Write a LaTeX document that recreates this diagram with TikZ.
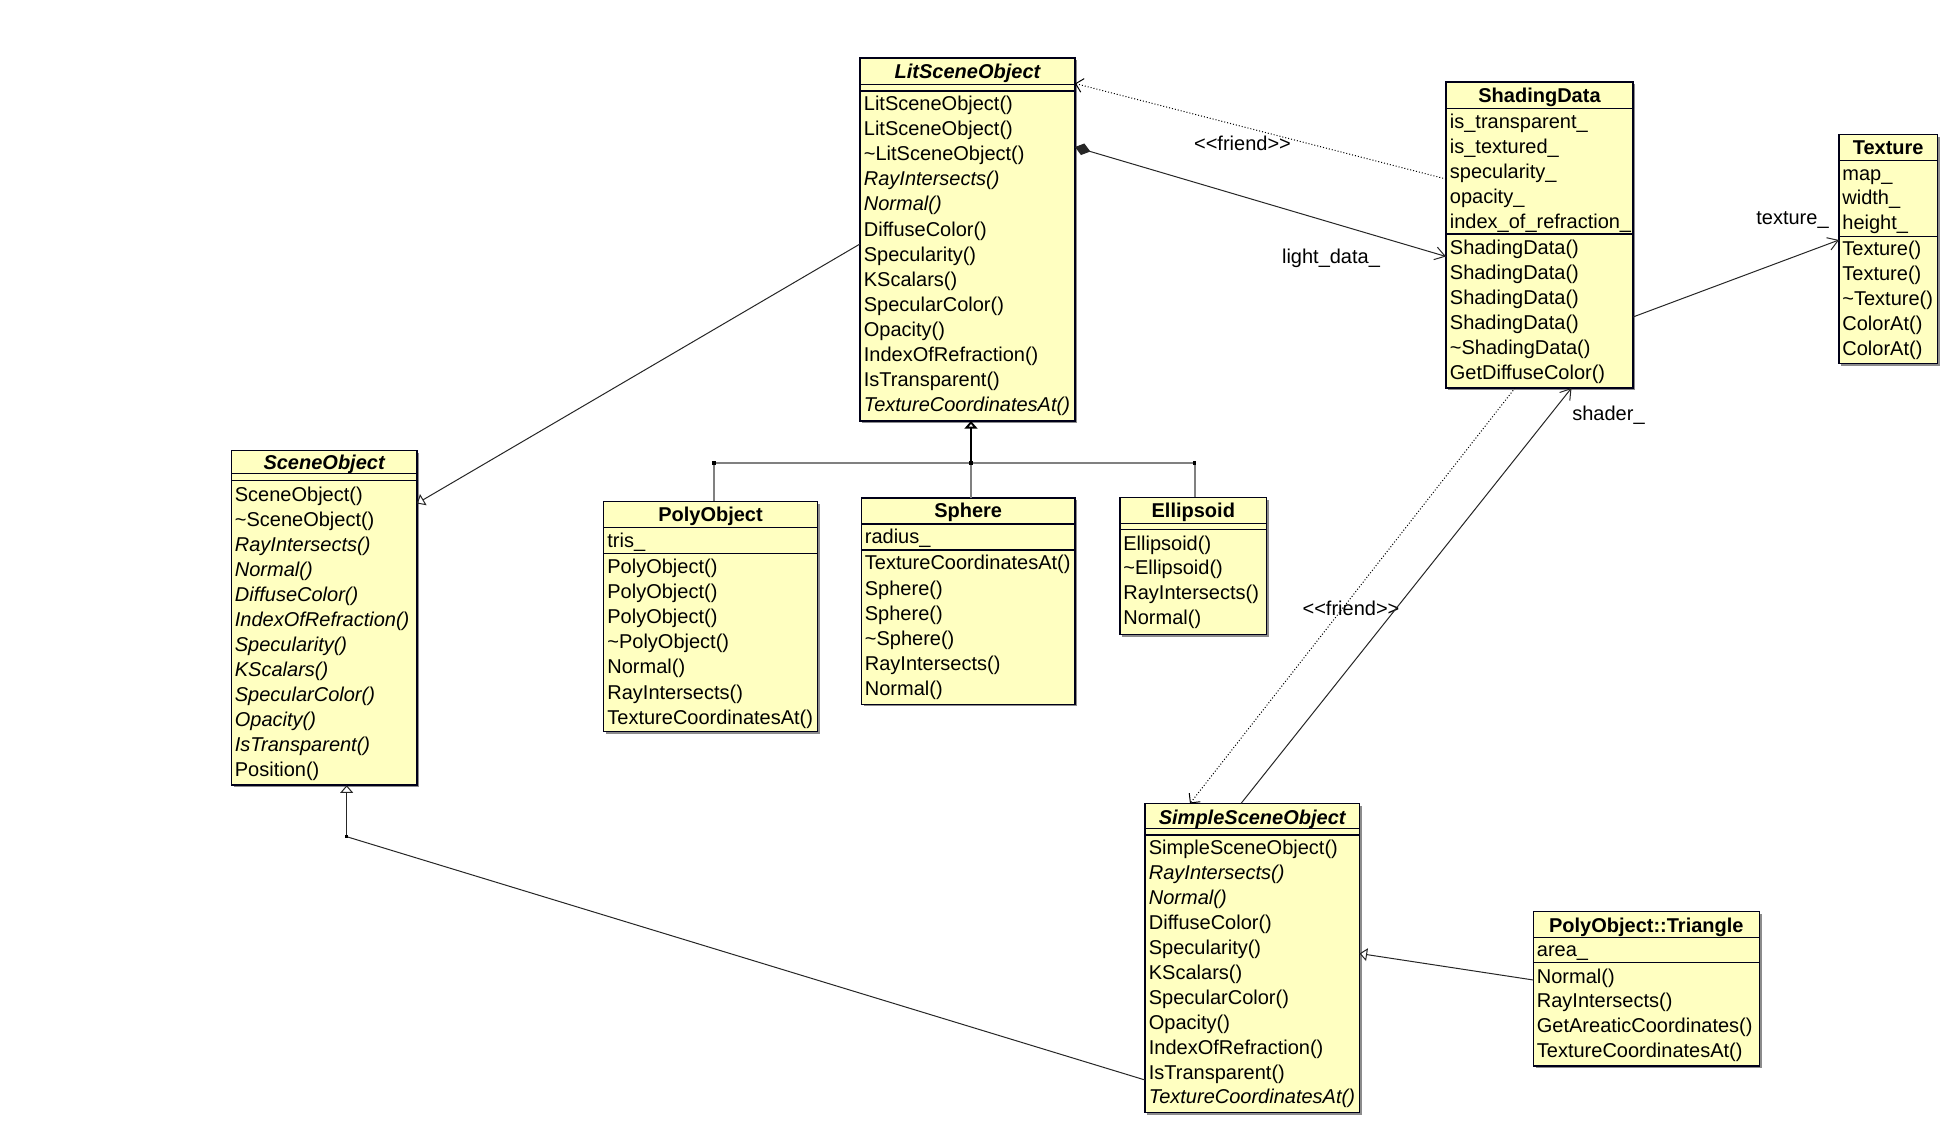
\documentclass[tikz,border=0pt]{standalone}
\usepackage{fontspec}
\setmainfont{Liberation Sans}
\usetikzlibrary{arrows.meta,shadows}
\definecolor{boxfill}{HTML}{FFFFC1}
\definecolor{boxline}{HTML}{000018}
\tikzset{
  cls/.style={draw=boxline, line width=0.7pt, fill=boxfill, inner sep=0pt, outer sep=0pt,
    anchor=north west, drop shadow={shadow xshift=1.1pt, shadow yshift=-1.1pt, fill=black!45, opacity=1}},
  sepl/.style={draw=boxline, line width=0.7pt},
  row/.style={inner sep=0pt, anchor=base west, yshift=-0.8pt, font=\fontsize{10pt}{12pt}\selectfont},
  ttl/.style={inner sep=0pt, anchor=base, yshift=-0.9pt, font=\fontsize{10pt}{12pt}\selectfont\bfseries},
  lbl/.style={inner sep=0pt, font=\fontsize{10pt}{12pt}\selectfont},
  assoc/.style={draw=black!85, line width=0.5pt},
  openhead/.style={-{Straight Barb[length=5pt,width=6.5pt]}},
  widehead/.style={-{Straight Barb[length=3.5pt,width=7pt]}},
  genhead/.style={-{Triangle[open,length=3.8pt,width=6.4pt]}},
  dep/.style={draw=black, line width=0.5pt, dash pattern=on 0.5pt off 1pt},
  hbar/.style={draw=black!50, line width=1pt},
  jdot/.style={fill=black, inner sep=0pt, minimum size=1.6pt, rectangle, draw=none},
}
\newcommand\cbox[5]{\node[cls, minimum width=#4*0.5pt, minimum height=#5*0.5pt] (#1) at (#2,#3) {};}
\newcommand\hsep[2]{\draw[sepl] (#1.west |- 0,#2) -- (#1.east |- 0,#2);}
\newcommand\rowlist[5]{%
  \foreach \rowtxt [count=\ri from 0] in {#5}{%
    \node[row] (#1-\ri) at (#2, #3+\ri*#4) {\rowtxt};}}
\begin{document}
\begin{tikzpicture}[x=0.5pt, y=-0.5pt]
\fill[white] (0,0) rectangle (1951,1127);
\useasboundingbox (0,0) rectangle (1951,1127);

% ---------- LitSceneObject
\cbox{lit}{860}{58}{215}{363}
\node[ttl] (lit-t) at (967.5,77) {\itshape LitSceneObject};
\hsep{lit}{84.5}\hsep{lit}{91}
\rowlist{lit-m}{863.5}{109}{25.1}{LitSceneObject(), LitSceneObject(), \textasciitilde LitSceneObject(),
  \textit{RayIntersects()}, \textit{Normal()}, DiffuseColor(), Specularity(), KScalars(),
  SpecularColor(), Opacity(), IndexOfRefraction(), IsTransparent(), \textit{TextureCoordinatesAt()}}

% ---------- ShadingData
\cbox{shd}{1446}{82}{187}{306}
\node[ttl] (shd-t) at (1539.5,101) {ShadingData};
\hsep{shd}{108.3}\hsep{shd}{234}
\rowlist{shd-a}{1449.5}{127}{24.9}{is\_transparent\_, is\_textured\_, specularity\_, opacity\_, index\_of\_refraction\_}
\rowlist{shd-m}{1449.5}{252.9}{25.1}{ShadingData(), ShadingData(), ShadingData(), ShadingData(), \textasciitilde ShadingData(), GetDiffuseColor()}

% ---------- Texture
\cbox{tex}{1839}{134.4}{98.4}{229}
\node[ttl] (tex-t) at (1888.2,152.3) {Texture};
\hsep{tex}{160.4}\hsep{tex}{236.4}
\rowlist{tex-a}{1842}{178.5}{24.85}{map\_, width\_, height\_}
\rowlist{tex-m}{1842}{254.4}{24.9}{Texture(), Texture(), \textasciitilde Texture(), ColorAt(), ColorAt()}

% ---------- SceneObject
\cbox{scn}{231.4}{450.4}{185.4}{334.8}
\node[ttl] (scn-t) at (324.1,467.6) {\itshape SceneObject};
\hsep{scn}{473.5}\hsep{scn}{480.5}
\rowlist{scn-m}{234.5}{500}{25}{SceneObject(), \textasciitilde SceneObject(), \textit{RayIntersects()}, \textit{Normal()},
  \textit{DiffuseColor()}, \textit{IndexOfRefraction()}, \textit{Specularity()}, \textit{KScalars()},
  \textit{SpecularColor()}, \textit{Opacity()}, \textit{IsTransparent()}, Position()}

% ---------- PolyObject
\cbox{poly}{603.5}{501.5}{214}{230.2}
\node[ttl] (poly-t) at (710.5,519.9) {PolyObject};
\hsep{poly}{527.3}\hsep{poly}{553.3}
\rowlist{poly-a}{607}{546}{25}{tris\_}
\rowlist{poly-m}{607}{572}{25.1}{PolyObject(), PolyObject(), PolyObject(), \textasciitilde PolyObject(), Normal(), RayIntersects(), TextureCoordinatesAt()}

% ---------- Sphere
\cbox{sph}{861.5}{498}{213.5}{206.3}
\node[ttl] (sph-t) at (968.2,516) {Sphere};
\hsep{sph}{524}\hsep{sph}{550}
\rowlist{sph-a}{864.5}{542.3}{25}{radius\_}
\rowlist{sph-m}{864.5}{568.4}{25.1}{TextureCoordinatesAt(), Sphere(), Sphere(), \textasciitilde Sphere(), RayIntersects(), Normal()}

% ---------- Ellipsoid
\cbox{ell}{1120}{497.5}{146.7}{137}
\node[ttl] (ell-t) at (1193.3,516) {Ellipsoid};
\hsep{ell}{523.3}\hsep{ell}{529.3}
\rowlist{ell-m}{1123}{548.5}{24.9}{Ellipsoid(), \textasciitilde Ellipsoid(), RayIntersects(), Normal()}

% ---------- SimpleSceneObject
\cbox{sso}{1145}{803.5}{214.5}{309}
\node[ttl] (sso-t) at (1252.2,822.3) {\itshape SimpleSceneObject};
\hsep{sso}{828.3}\hsep{sso}{835}
\rowlist{sso-m}{1148.5}{853.4}{24.9}{SimpleSceneObject(), \textit{RayIntersects()}, \textit{Normal()}, DiffuseColor(),
  Specularity(), KScalars(), SpecularColor(), Opacity(), IndexOfRefraction(), IsTransparent(), \textit{TextureCoordinatesAt()}}

% ---------- PolyObject::Triangle
\cbox{tri}{1533.3}{911.7}{226}{154.5}
\node[ttl] (tri-t) at (1646.3,930.5) {PolyObject::Triangle};
\hsep{tri}{937.3}\hsep{tri}{962.7}
\rowlist{tri-a}{1536.5}{955.4}{25}{area\_}
\rowlist{tri-m}{1536.5}{981.5}{24.9}{Normal(), RayIntersects(), GetAreaticCoordinates(), TextureCoordinatesAt()}

% ---------- inheritance tree to LitSceneObject
\coordinate (hl) at (714,463);
\coordinate (hj) at (971,463);
\coordinate (hr) at (1194.5,463);
\draw[hbar] (hl) -- (hr);
\draw[hbar] (hl) -- (hl |- poly.north);
\draw[hbar] (hj) -- (hj |- sph.north);
\draw[hbar] (hr) -- (hr |- ell.north);
\draw[draw=black, line width=1pt, genhead] (hj) -- (hj |- lit.south);
\node[jdot] (dl) at (hl) {};
\node[jdot] (dj) at (hj) {};
\node[jdot] (dr) at (hr) {};

% ---------- LitSceneObject -> SceneObject
\draw[assoc, genhead] (lit.west |- 0,244) -- (scn.east |- 0,503.5);

% ---------- SimpleSceneObject -> SceneObject
\coordinate (sj) at (346.7,836.7);
\draw[assoc] (sso.west |- 0,1080) -- (sj);
\draw[assoc, genhead] (sj) -- (sj |- scn.south);
\node[jdot] (ds) at (sj) {};

% ---------- Triangle -> SimpleSceneObject
\draw[assoc, genhead] (tri.west |- 0,980) -- (sso.east |- 0,953.5);

% ---------- composition light_data_
\draw[assoc, {Diamond[length=8pt,width=6pt]}-{Straight Barb[length=5pt,width=6.5pt]}] (lit.east |- 0,147) -- (shd.west |- 0,256.5);
\node[lbl] (l-light) at (1331,258.5) {light\_data\_};

% ---------- friend dependencies
\draw[dep, widehead] (shd.west |- 0,179) -- (lit.east |- 0,83.5);
\node[lbl] (l-friend1) at (1242.5,143.5) {<\kern0pt<friend>\kern0pt>};
\draw[dep, widehead] (shd.south -| 1515,0) -- (sso.north -| 1190,0);
\node[lbl] (l-friend2) at (1351,608.8) {<\kern0pt<friend>\kern0pt>};

% ---------- shader_ association
\draw[assoc, openhead] (sso.north -| 1241,0) -- (shd.south -| 1571.5,0);
\node[lbl] (l-shader) at (1608.5,415.5) {shader\_};

% ---------- texture_ association
\draw[assoc, openhead] (shd.east |- 0,317) -- (tex.west |- 0,240);
\node[lbl] (l-texture) at (1792.5,220) {texture\_};
\end{tikzpicture}
\end{document}
